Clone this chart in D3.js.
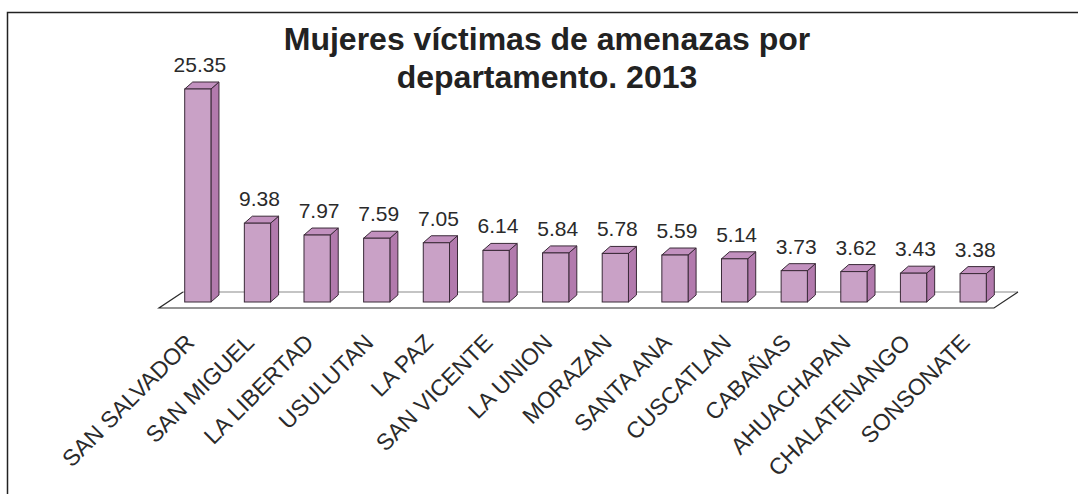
<!DOCTYPE html>
<html>
<head>
<meta charset="utf-8">
<script src="https://cdn.jsdelivr.net/npm/d3@7"></script>
<style>
  body { margin: 0; background: #fff; }
  svg { display: block; font-family: "Liberation Sans", Arial, sans-serif; }
</style>
</head>
<body>
<div id="chart"></div>
<script>
const departments = ['SAN SALVADOR', 'SAN MIGUEL', 'LA LIBERTAD', 'USULUTAN', 'LA PAZ',
  'SAN VICENTE', 'LA UNION', 'MORAZAN', 'SANTA ANA', 'CUSCATLAN', 'CABAÑAS',
  'AHUACHAPAN', 'CHALATENANGO', 'SONSONATE'];
const values = [25.35, 9.38, 7.97, 7.59, 7.05, 6.14, 5.84, 5.78, 5.59, 5.14, 3.73, 3.62, 3.43, 3.38];
const titleLines = ['Mujeres víctimas de amenazas por', 'departamento. 2013'];

const width = 1078;
const height = 494;
const depth = { dx: 8, dy: -7 };

const svg = d3.select('#chart').append('svg')
  .attr('width', width)
  .attr('height', height);

// frame (right and bottom edges fall outside the picture)
svg.append('path')
  .attr('d', `M7.5,${height} V12.5 H${width}`)
  .attr('fill', 'none')
  .attr('stroke', '#222')
  .attr('stroke-width', 1.5);

svg.append('text')
  .attr('x', 547)
  .attr('y', 50)
  .attr('text-anchor', 'middle')
  .attr('font-weight', 'bold')
  .attr('font-size', 32)
  .attr('fill', '#222')
  .selectAll('tspan')
  .data(titleLines)
  .enter()
  .append('tspan')
    .attr('x', 547)
    .attr('dy', (d, i) => (i ? 38 : 0))
    .text(d => d);

const x = d3.scaleBand()
  .domain(departments)
  .range([168, 1003])
  .paddingInner(0.56)
  .paddingOuter(0.28);

const y = d3.scaleLinear()
  .domain([0, 25.35])
  .range([302, 89]);

// floor
const [x0, x1] = x.range();
const y0 = y(0);
svg.append('path')
  .attr('d', `M${x0 - 9},${y0 + 6} L${x1 - 9},${y0 + 6} L${x1 + 15},${y0 - 10} L${x0 + 15},${y0 - 10} Z`)
  .attr('fill', '#fff')
  .attr('stroke', 'none');
svg.append('line')
  .attr('x1', x0 + 15).attr('y1', y0 - 10)
  .attr('x2', x1 + 15).attr('y2', y0 - 10)
  .attr('stroke', '#8a8a8a')
  .attr('stroke-width', 1.2);
svg.append('path')
  .attr('d', `M${x0 + 15},${y0 - 10} L${x0 - 9},${y0 + 6} L${x1 - 9},${y0 + 6} L${x1 + 15},${y0 - 10}`)
  .attr('fill', 'none')
  .attr('stroke', '#2a2a2a')
  .attr('stroke-width', 1.2);

const bars = svg.selectAll('.bar')
  .data(values)
  .enter()
  .append('g')
    .attr('class', 'bar');

const bw = x.bandwidth();
const left = (d, i) => x(departments[i]);

// side face
bars.append('path')
  .attr('d', (d, i) => {
    const bx = left(d, i) + bw;
    return `M${bx},${y(d)} L${bx + depth.dx},${y(d) + depth.dy} L${bx + depth.dx},${y0 + depth.dy} L${bx},${y0} Z`;
  })
  .attr('fill', '#b27aad')
  .attr('stroke', '#3a2a38')
  .attr('stroke-width', 1);

// top face
bars.append('path')
  .attr('d', (d, i) => {
    const bx = left(d, i);
    return `M${bx},${y(d)} L${bx + depth.dx},${y(d) + depth.dy} L${bx + bw + depth.dx},${y(d) + depth.dy} L${bx + bw},${y(d)} Z`;
  })
  .attr('fill', '#c291bf')
  .attr('stroke', '#3a2a38')
  .attr('stroke-width', 1);

// front face
bars.append('rect')
  .attr('x', left)
  .attr('y', d => y(d))
  .attr('width', bw)
  .attr('height', d => y0 - y(d))
  .attr('fill', '#c9a1c6')
  .attr('stroke', '#3a2a38')
  .attr('stroke-width', 1);

bars.append('text')
  .attr('x', (d, i) => left(d, i) + bw / 2 + 2)
  .attr('y', d => y(d) - 17)
  .attr('text-anchor', 'middle')
  .attr('font-size', 21)
  .attr('fill', '#2a2a2a')
  .text(d => d.toFixed(2));

svg.selectAll('.cat')
  .data(departments)
  .enter()
  .append('text')
    .attr('class', 'cat')
    .attr('text-anchor', 'end')
    .attr('font-size', 23)
    .attr('fill', '#2a2a2a')
    .attr('transform', d => `translate(${x(d) + bw / 2 - 2},344) rotate(-45)`)
    .text(d => d);
</script>
</body>
</html>
